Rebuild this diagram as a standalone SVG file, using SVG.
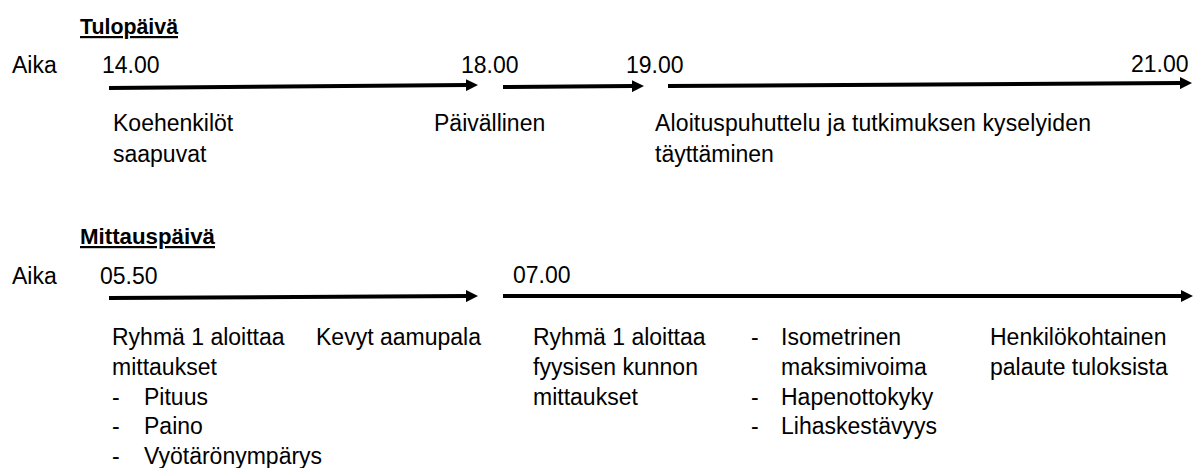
<svg xmlns="http://www.w3.org/2000/svg" width="1202" height="468" viewBox="0 0 1202 468">
  <style>
    .t { font-family: "Liberation Sans", Arial, sans-serif; font-size: 23px; fill: #000; }
    .h { font-family: "Liberation Sans", Arial, sans-serif; font-size: 22px; font-weight: bold; fill: #000; text-decoration: underline; }
    .arrow { stroke: #000; stroke-width: 4; fill: none; marker-end: url(#head); }
  </style>
  <defs>
    <marker id="head" markerUnits="userSpaceOnUse" markerWidth="13" markerHeight="12" refX="1" refY="6" orient="auto">
      <path d="M0,0 L12,6 L0,12 z" fill="#000"/>
    </marker>
  </defs>
  <rect width="1202" height="468" fill="#fff"/>

  <g id="connectors">
    <line class="arrow" x1="109" y1="88" x2="467" y2="85.1"/>
    <line class="arrow" x1="503" y1="87" x2="633" y2="86.1"/>
    <line class="arrow" x1="668" y1="86" x2="1181" y2="83.1"/>
    <line class="arrow" x1="109" y1="298" x2="467" y2="296.1"/>
    <line class="arrow" x1="503" y1="296" x2="1182" y2="296"/>
  </g>

  <g id="tulopaiva-header">
    <text class="h" x="80" y="34" textLength="98" lengthAdjust="spacingAndGlyphs">Tulopäivä</text>
  </g>
  <g id="tulopaiva-times">
    <text class="t" x="12" y="73">Aika</text>
    <text class="t" x="102" y="73">14.00</text>
    <text class="t" x="461" y="73">18.00</text>
    <text class="t" x="626" y="73">19.00</text>
    <text class="t" x="1131" y="72">21.00</text>
  </g>
  <g id="koehenkilot">
    <text class="t" x="113" y="131">Koehenkilöt</text>
    <text class="t" x="113" y="162">saapuvat</text>
  </g>
  <g id="paivallinen">
    <text class="t" x="434" y="131">Päivällinen</text>
  </g>
  <g id="aloituspuhuttelu">
    <text class="t" x="655" y="131" textLength="436" lengthAdjust="spacing">Aloituspuhuttelu ja tutkimuksen kyselyiden</text>
    <text class="t" x="655" y="162">täyttäminen</text>
  </g>

  <g id="mittauspaiva-header">
    <text class="h" x="80" y="244" textLength="135" lengthAdjust="spacingAndGlyphs">Mittauspäivä</text>
  </g>
  <g id="mittauspaiva-times">
    <text class="t" x="12" y="284">Aika</text>
    <text class="t" x="100" y="284">05.50</text>
    <text class="t" x="513" y="283">07.00</text>
  </g>
  <g id="ryhma1-mittaukset">
    <text class="t" x="112" y="345">Ryhmä 1 aloittaa</text>
    <text class="t" x="112" y="375">mittaukset</text>
    <text class="t" x="112" y="404.5">-</text>
    <text class="t" x="144" y="404.5">Pituus</text>
    <text class="t" x="112" y="434">-</text>
    <text class="t" x="144" y="434">Paino</text>
    <text class="t" x="112" y="464">-</text>
    <text class="t" x="144" y="464">Vyötärönympärys</text>
  </g>
  <g id="aamupala">
    <text class="t" x="316" y="345">Kevyt aamupala</text>
  </g>
  <g id="ryhma1-fyysinen">
    <text class="t" x="533" y="345">Ryhmä 1 aloittaa</text>
    <text class="t" x="533" y="375">fyysisen kunnon</text>
    <text class="t" x="533" y="404.5">mittaukset</text>
  </g>
  <g id="testit">
    <text class="t" x="751" y="345">-</text>
    <text class="t" x="781" y="345">Isometrinen</text>
    <text class="t" x="781" y="375">maksimivoima</text>
    <text class="t" x="751" y="404.5">-</text>
    <text class="t" x="781" y="404.5">Hapenottokyky</text>
    <text class="t" x="751" y="434">-</text>
    <text class="t" x="781" y="434">Lihaskestävyys</text>
  </g>
  <g id="palaute">
    <text class="t" x="990" y="345">Henkilökohtainen</text>
    <text class="t" x="990" y="375">palaute tuloksista</text>
  </g>
</svg>
